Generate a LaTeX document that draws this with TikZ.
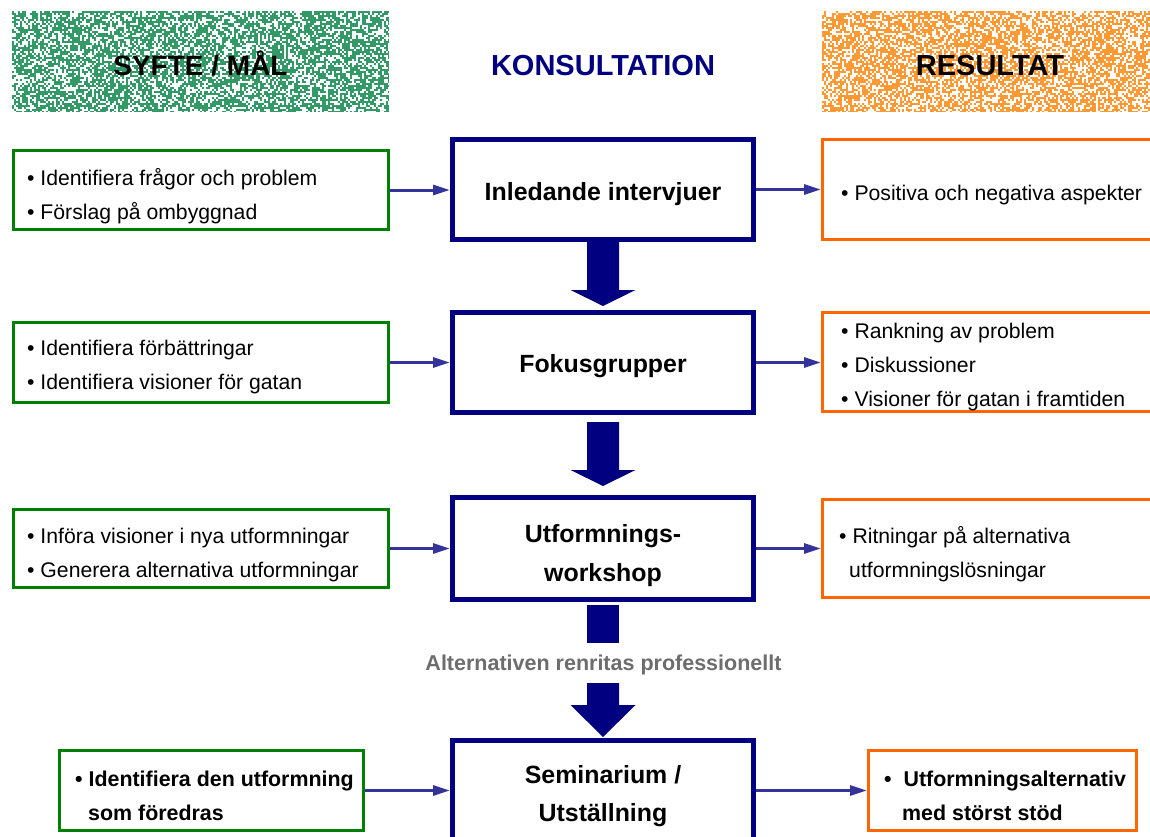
\documentclass[tikz,border=0pt]{standalone}
\usepackage{fontspec}
\setmainfont{Liberation Sans}
\usetikzlibrary{calc,arrows.meta}
\definecolor{navyc}{HTML}{000080}
\definecolor{arrowc}{HTML}{333399}
\definecolor{greenc}{HTML}{008000}
\definecolor{orangec}{HTML}{FF6600}
\definecolor{hgreen}{HTML}{339966}
\definecolor{horange}{HTML}{FF9933}
\definecolor{grayc}{HTML}{6D6D6D}
\begin{document}
\begin{tikzpicture}[x=1pt,y=-1pt,
  cbox/.style={draw=navyc,line width=5pt,minimum width=301pt,inner sep=0pt},
  gbox/.style={draw=greenc,line width=3pt,inner sep=0pt},
  obox/.style={draw=orangec,line width=3pt,inner sep=0pt},
  txt/.style={inner sep=0pt,anchor=west,align=left,font=\fontsize{21.2}{34}\selectfont},
  btxt/.style={inner sep=0pt,anchor=west,align=left,font=\fontsize{21.4}{34}\selectfont\bfseries},
  ctxt/.style={inner sep=0pt,align=center,font=\fontsize{24.9}{38.5}\selectfont\bfseries},
  hdr/.style={inner sep=0pt,anchor=base,font=\fontsize{29}{30}\selectfont\bfseries},
  conn/.style={draw=arrowc,line width=3pt,-{Triangle[length=17pt,width=10pt]}},
  fatarrow/.style={fill=navyc}]
\useasboundingbox (0,0) rectangle (1150,837);
\clip (0,0) rectangle (1150,837);

% header textures
\begin{scope}
  \clip (12,11) rectangle (389,112);
  \fill[hgreen] (12,11) rectangle (389,112);
  \pgfmathsetseed{11}
  \foreach \i in {0,...,188}{\foreach \j in {0,...,50}{%
    \pgfmathparse{rnd}\ifdim\pgfmathresult pt<0.4pt\fill[white] (12+2*\i,11+2*\j) rectangle ++(2,2);\fi}}
\end{scope}
\begin{scope}
  \clip (822,11) rectangle (1150,112);
  \fill[horange] (822,11) rectangle (1150,112);
  \pgfmathsetseed{23}
  \foreach \i in {0,...,164}{\foreach \j in {0,...,50}{%
    \pgfmathparse{rnd}\ifdim\pgfmathresult pt<0.42pt\fill[white] (822+2*\i,11+2*\j) rectangle ++(2,2);\fi}}
\end{scope}

\node[hdr,font=\fontsize{28}{30}\selectfont\bfseries] (hs) at (200.5,75.5) {SYFTE / MÅL};
\node[hdr,text=navyc] (hk) at (603,75.5) {KONSULTATION};
\node[hdr] (hr) at (990,75.5) {RESULTAT};

% centre boxes
\node[cbox,minimum height=100pt] (b1) at (603,189.5) {};
\node[cbox,minimum height=100pt] (b2) at (603,362.5) {};
\node[cbox,minimum height=102pt] (b3) at (603,548.5) {};
\node[cbox,minimum height=100pt] (b4) at (603,790.5) {};
\node[ctxt] (t1) at (603,194) {Inledande intervjuer};
\node[ctxt] (t2) at (603,366.5) {Fokusgrupper};
\node[ctxt] (t3) at (603,555.5) {Utformnings-\\workshop};
\node[ctxt] (t4) at (603,796) {Seminarium /\\Utställning};

% left boxes
\node[gbox,minimum width=375pt,minimum height=79pt] (l1) at (201,190) {};
\node[gbox,minimum width=375pt,minimum height=80pt] (l2) at (201,362.5) {};
\node[gbox,minimum width=375pt,minimum height=78pt] (l3) at (201,548.5) {};
\node[gbox,minimum width=304pt,minimum height=80pt] (l4) at (211.5,790.5) {};
\node[txt] (lt1) at (27,196) {• Identifiera frågor och problem\\• Förslag på ombyggnad};
\node[txt] (lt2) at (27,367.5) {• Identifiera förbättringar\\• Identifiera visioner för gatan};
\node[txt] (lt3) at (27,555) {• Införa visioner i nya utformningar\\• Generera alternativa utformningar};
\node[btxt] (lt4) at (75,796) {• Identifiera den utformning\\\hspace*{13pt}som föredras};

% right boxes
\node[obox,minimum width=350pt,minimum height=100pt] (r1) at (997.5,189.5) {};
\node[obox,minimum width=350pt,minimum height=99pt] (r2) at (997.5,362) {};
\node[obox,minimum width=350pt,minimum height=98pt] (r3) at (997.5,548.5) {};
\node[obox,minimum width=268pt,minimum height=80pt] (r4) at (1002.5,790.5) {};
\node[txt] (rt1) at (841,194.7) {• Positiva och negativa aspekter};
\node[txt] (rt2) at (841,367.2) {• Rankning av problem\\• Diskussioner\\• Visioner för gatan i framtiden};
\node[txt] (rt3) at (839,554) {• Ritningar på alternativa\\\hspace*{10pt}utformningslösningar};
\node[btxt] (rt4) at (884,796) {•\ \ Utformningsalternativ\\\hspace*{18pt}med störst stöd};

% thin connectors
\draw[conn] (l1.east) -- (l1.east -| b1.west);
\draw[conn] (b1.east) -- (b1.east -| r1.west);
\draw[conn] (l2.east) -- (l2.east -| b2.west);
\draw[conn] (b2.east) -- (b2.east -| r2.west);
\draw[conn] (l3.east) -- (l3.east -| b3.west);
\draw[conn] (b3.east) -- (b3.east -| r3.west);
\draw[conn] (l4.east) -- (l4.east -| b4.west);
\draw[conn] (b4.east) -- (b4.east -| r4.west);

% fat arrows
\fill[fatarrow] ($(b1.south)+(-16,-1)$) -- ($(b1.south)+(16,-1)$) -- ($(b2.north)+(16,-20)$)
  -- ($(b2.north)+(32.5,-20)$) -- ($(b2.north)+(0,-4)$) -- ($(b2.north)+(-32.5,-20)$)
  -- ($(b2.north)+(-16,-20)$) -- cycle;
\fill[fatarrow] ($(b2.south)+(-16,7)$) -- ($(b2.south)+(16,7)$) -- ($(b3.north)+(16,-25)$)
  -- ($(b3.north)+(32.5,-25)$) -- ($(b3.north)+(0,-9)$) -- ($(b3.north)+(-32.5,-25)$)
  -- ($(b3.north)+(-16,-25)$) -- cycle;
\fill[fatarrow] ($(b3.south)+(-16,3)$) rectangle ($(b3.south)+(16,41)$);
\node[inner sep=0pt,anchor=base,text=grayc,font=\fontsize{21.5}{24}\selectfont\bfseries] (lab) at (603.5,670.5) {Alternativen renritas professionellt};
\fill[fatarrow] ($(b4.north)+(-16,-55)$) -- ($(b4.north)+(16,-55)$) -- ($(b4.north)+(16,-33)$)
  -- ($(b4.north)+(32.5,-33)$) -- ($(b4.north)+(0,-1)$) -- ($(b4.north)+(-32.5,-33)$)
  -- ($(b4.north)+(-16,-33)$) -- cycle;
\end{tikzpicture}
\end{document}
